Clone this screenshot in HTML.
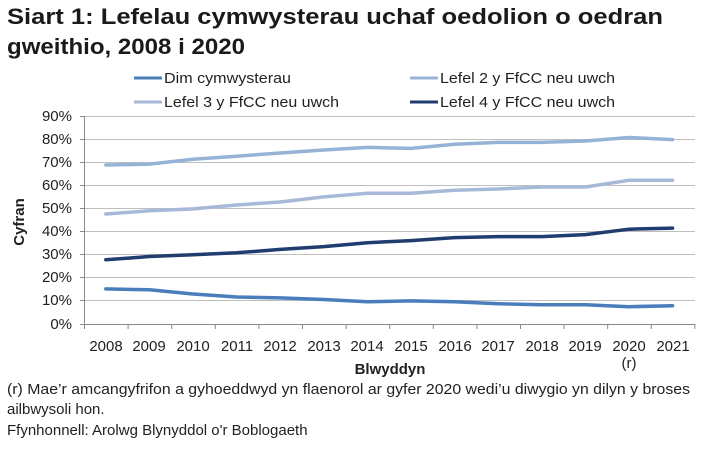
<!DOCTYPE html>
<html><head><meta charset="utf-8"><style>
body{margin:0;background:#fff;width:702px;height:448px;overflow:hidden;font-family:"Liberation Sans",Arial,sans-serif}
</style></head><body>
<svg width="702" height="448" viewBox="0 0 702 448" xmlns="http://www.w3.org/2000/svg" font-family="Liberation Sans, Arial, sans-serif">
<text x="7" y="24" font-size="22" font-weight="bold" fill="#1a1a1a" textLength="656" lengthAdjust="spacingAndGlyphs">Siart 1: Lefelau cymwysterau uchaf oedolion o oedran</text>
<text x="7" y="54" font-size="22" font-weight="bold" fill="#1a1a1a" textLength="238" lengthAdjust="spacingAndGlyphs">gweithio, 2008 i 2020</text>
<g font-size="15" fill="#222">
<line x1="134" y1="78" x2="162" y2="78" stroke="#4a7ebb" stroke-width="3"/><text x="164" y="83" textLength="127" lengthAdjust="spacingAndGlyphs">Dim cymwysterau</text>
<line x1="410" y1="78" x2="438" y2="78" stroke="#95b3d7" stroke-width="3"/><text x="440" y="83" textLength="175" lengthAdjust="spacingAndGlyphs">Lefel 2 y FfCC neu uwch</text>
<line x1="134" y1="102" x2="162" y2="102" stroke="#a7b9d8" stroke-width="3"/><text x="164" y="107" textLength="175" lengthAdjust="spacingAndGlyphs">Lefel 3 y FfCC neu uwch</text>
<line x1="410" y1="102" x2="438" y2="102" stroke="#1f3d6e" stroke-width="3"/><text x="440" y="107" textLength="175" lengthAdjust="spacingAndGlyphs">Lefel 4 y FfCC neu uwch</text>
</g>
<g stroke="#bfbfbf" stroke-width="1">
<line x1="84" y1="116.5" x2="695" y2="116.5"/><line x1="84" y1="139.5" x2="695" y2="139.5"/><line x1="84" y1="162.5" x2="695" y2="162.5"/><line x1="84" y1="185.5" x2="695" y2="185.5"/><line x1="84" y1="208.5" x2="695" y2="208.5"/><line x1="84" y1="231.5" x2="695" y2="231.5"/><line x1="84" y1="254.5" x2="695" y2="254.5"/><line x1="84" y1="277.5" x2="695" y2="277.5"/><line x1="84" y1="300.5" x2="695" y2="300.5"/>
</g>
<g stroke="#888" stroke-width="1">
<line x1="84.5" y1="116" x2="84.5" y2="324"/><line x1="80" y1="324.5" x2="695" y2="324.5"/>
<path d="M80 116.5h4M80 139.5h4M80 162.5h4M80 185.5h4M80 208.5h4M80 231.5h4M80 254.5h4M80 277.5h4M80 300.5h4"/>
<path d="M84.5 324v5M128.1 324v5M171.7 324v5M215.3 324v5M258.9 324v5M302.5 324v5M346.1 324v5M389.7 324v5M433.3 324v5M476.9 324v5M520.5 324v5M564.1 324v5M607.7 324v5M651.3 324v5M694.9 324v5"/>
</g>
<g font-size="15" fill="#222" text-anchor="end">
<text x="72" y="121">90%</text><text x="72" y="144">80%</text><text x="72" y="167">70%</text><text x="72" y="190">60%</text><text x="72" y="213">50%</text><text x="72" y="236">40%</text><text x="72" y="259">30%</text><text x="72" y="282">20%</text><text x="72" y="305">10%</text><text x="72" y="329">0%</text>
</g>
<g font-size="15" fill="#222" text-anchor="middle">
<text x="106" y="351">2008</text><text x="149" y="351">2009</text><text x="193" y="351">2010</text><text x="237" y="351">2011</text><text x="280" y="351">2012</text><text x="324" y="351">2013</text><text x="367" y="351">2014</text><text x="411" y="351">2015</text><text x="455" y="351">2016</text><text x="498" y="351">2017</text><text x="542" y="351">2018</text><text x="585" y="351">2019</text><text x="629" y="351">2020</text><text x="673" y="351">2021</text>
<text x="629" y="368">(r)</text>
<text x="390" y="374" font-weight="bold">Blwyddyn</text>
</g>
<text transform="translate(24,222) rotate(-90)" font-size="15" font-weight="bold" fill="#222" text-anchor="middle">Cyfran</text>
<g fill="none" stroke-width="3.5" stroke-linejoin="round" stroke-linecap="round">
<polyline stroke="#95b3d7" points="105.8,165 149.4,164.1 193,159.2 236.6,156.2 280.2,153 323.8,150 367.4,147.4 411,148.4 454.6,144.2 498.2,142.4 541.8,142.4 585.4,141 629,137.5 672.6,139.6"/>
<polyline stroke="#a7b9d8" points="105.8,214 149.4,210.8 193,208.9 236.6,205 280.2,202 323.8,196.9 367.4,193.2 411,193.2 454.6,190.2 498.2,189 541.8,187 585.4,187 629,180.3 672.6,180.3"/>
<polyline stroke="#1f3d6e" points="105.8,259.8 149.4,256.5 193,254.7 236.6,252.8 280.2,249.4 323.8,246.6 367.4,242.7 411,240.6 454.6,237.6 498.2,236.6 541.8,236.6 585.4,234.6 629,229.2 672.6,228.1"/>
<polyline stroke="#4a7ebb" points="105.8,288.9 149.4,289.8 193,294 236.6,297 280.2,297.9 323.8,299.5 367.4,301.8 411,300.9 454.6,301.8 498.2,303.7 541.8,304.8 585.4,304.8 629,306.7 672.6,305.7"/>
</g>
<g font-size="15" fill="#222">
<text x="7" y="394" textLength="683" lengthAdjust="spacingAndGlyphs">(r) Mae’r amcangyfrifon a gyhoeddwyd yn flaenorol ar gyfer 2020 wedi’u diwygio yn dilyn y broses</text>
<text x="7" y="414">ailbwysoli hon.</text>
<text x="7" y="435">Ffynhonnell: Arolwg Blynyddol o'r Boblogaeth</text>
</g>
</svg>
</body></html>
